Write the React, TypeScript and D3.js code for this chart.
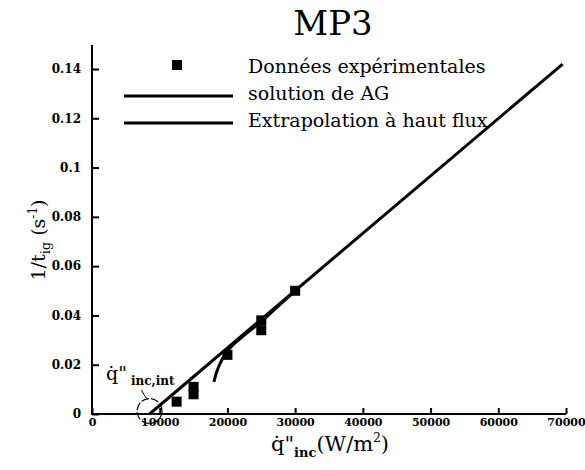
import React, { useRef, useEffect } from 'react';
import { select, scaleLinear, axisBottom, axisLeft, line, curveMonotoneX } from 'd3';

// experimental points: heat flux (W/m2) vs 1/t_ig (1/s)
const expFlux = [12500, 15000, 15000, 20000, 25000, 25000, 30000];
const expRate = [0.005, 0.008, 0.011, 0.024, 0.034, 0.038, 0.05];

// "solution de AG" curve
const agFlux = [18000, 18400, 19000, 20000, 21000, 22500, 25000, 27500, 30000];
const agRate = [0.013, 0.017, 0.021, 0.0255, 0.0285, 0.032, 0.0375, 0.0438, 0.05];

// high flux extrapolation
const extFlux = [8500, 69500];
const extRate = [0, 0.142];

const xTicks = [0, 10000, 20000, 30000, 40000, 50000, 60000, 70000];
const yTicks = [0, 0.02, 0.04, 0.06, 0.08, 0.1, 0.12, 0.14];

const legendLabels = ['Données expérimentales', 'solution de AG', 'Extrapolation à haut flux'];

const FONT = "'DejaVu Serif', 'Liberation Serif', serif";

const App = () => {
  const svgRef = useRef(null);
  const width = 585;
  const height = 470;

  useEffect(() => {
    const svg = select(svgRef.current);
    svg.selectAll('*').remove();

    const x = scaleLinear().domain([0, 70000]).range([92, 566]);
    const y = scaleLinear().domain([0, 0.14]).range([414, 69]);

    // axes, ticks drawn inward
    const xAxis = axisBottom(x).tickValues(xTicks).tickSize(-6).tickPadding(4).tickFormat(d => String(d));
    const gx = svg.append('g').attr('transform', 'translate(0,414)').call(xAxis);
    gx.select('.domain').remove();
    gx.append('line').attr('x1', 92).attr('x2', 566).attr('stroke', '#000').attr('stroke-width', 2);

    const yAxis = axisLeft(y).tickValues(yTicks).tickSize(-7).tickPadding(11)
      .tickFormat(d => (d === 0 ? '0' : String(+(+d).toFixed(2))));
    const gy = svg.append('g').attr('transform', 'translate(92,0)').call(yAxis);
    gy.select('.domain').remove();
    gy.append('line').attr('y1', 45).attr('y2', 415).attr('stroke', '#000').attr('stroke-width', 2);

    svg.selectAll('.tick line').attr('stroke', '#000').attr('stroke-width', 2);
    svg.selectAll('.tick text')
      .attr('fill', '#000')
      .style('font-family', FONT)
      .style('font-size', '12px')
      .style('font-weight', 'bold');
    gx.selectAll('.tick text').attr('dy', '0.71em').style('font-size', '11px');

    // extrapolation line
    const lin = line().x(d => x(d[0])).y(d => y(d[1]));
    svg.append('path')
      .datum(extFlux.map((f, i) => [f, extRate[i]]))
      .attr('d', lin)
      .attr('fill', 'none')
      .attr('stroke', '#000')
      .attr('stroke-width', 3);

    // AG solution curve
    const curve = line().x(d => x(d[0])).y(d => y(d[1])).curve(curveMonotoneX);
    svg.append('path')
      .datum(agFlux.map((f, i) => [f, agRate[i]]))
      .attr('d', curve)
      .attr('fill', 'none')
      .attr('stroke', '#000')
      .attr('stroke-width', 3);

    // experimental squares
    svg.selectAll('.pt')
      .data(expFlux.map((f, i) => [f, expRate[i]]))
      .join('rect')
      .attr('class', 'pt')
      .attr('x', d => x(d[0]) - 5)
      .attr('y', d => y(d[1]) - 5)
      .attr('width', 10)
      .attr('height', 10)
      .attr('fill', '#000');

    // intercept circle
    svg.append('circle')
      .attr('cx', x(8500)).attr('cy', y(0.0012)).attr('r', 12.5)
      .attr('fill', 'none').attr('stroke', '#000').attr('stroke-width', 1.2)
      .attr('stroke-dasharray', '8,2');
    svg.append('path')
      .attr('d', `M${x(7300)},${y(0.0098)} Q${x(7700)},${y(0.0075)} ${x(8100)},${y(0.0062)}`)
      .attr('fill', 'none').attr('stroke', '#000').attr('stroke-width', 1);

    // legend
    svg.append('rect').attr('x', 172).attr('y', 60).attr('width', 10).attr('height', 10).attr('fill', '#000');
    [96, 123].forEach(ly => {
      svg.append('line').attr('x1', 124).attr('x2', 233).attr('y1', ly).attr('y2', ly)
        .attr('stroke', '#000').attr('stroke-width', 3);
    });
    svg.selectAll('.leg')
      .data(legendLabels)
      .join('text')
      .attr('class', 'leg')
      .attr('x', 248)
      .attr('y', (d, i) => 73 + i * 27)
      .style('font-family', FONT)
      .style('font-size', '19px')
      .text(d => d);
  }, []);

  return (
    <div style={{ position: 'absolute', left: 0, top: 0 }}>
      <svg ref={svgRef} width={width} height={height} style={{ display: 'block', background: '#fff' }} />
      <svg width={width} height={height} style={{ position: 'absolute', left: 0, top: 0 }}>
        <text x={333} y={35} textAnchor="middle" style={{ fontFamily: FONT, fontSize: 34 }}>MP3</text>
        <text transform="translate(45,240) rotate(-90)" textAnchor="middle" style={{ fontFamily: FONT, fontSize: 19 }}>
          1/t<tspan dy="5" fontSize="13">ig</tspan><tspan dy="-5"> (s</tspan><tspan dy="-8" fontSize="12">-1</tspan><tspan dy="8">)</tspan>
        </text>
        <text x={330} y={451} textAnchor="middle" style={{ fontFamily: FONT, fontSize: 21 }}>
          q̇"<tspan dy="6" fontSize="13" fontWeight="bold">inc</tspan><tspan dy="-6">(W/m</tspan><tspan dy="-9" fontSize="12">2</tspan><tspan dy="9">)</tspan>
        </text>
        <text x={106} y={380} style={{ fontFamily: FONT, fontSize: 19 }}>
          q̇"<tspan dx="4" dy="5" fontSize="12" fontWeight="bold">inc,int</tspan>
        </text>
      </svg>
    </div>
  );
};

export default App;
